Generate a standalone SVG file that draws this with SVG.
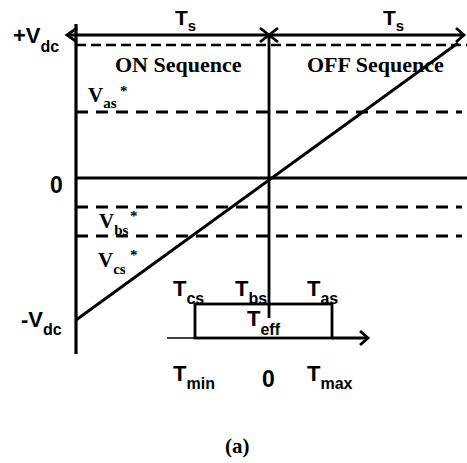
<svg xmlns="http://www.w3.org/2000/svg" width="467" height="463" viewBox="0 0 467 463">
<style>
.s{font-family:"Liberation Sans",Arial,sans-serif;font-weight:bold;fill:#000}
.r{font-family:"Liberation Serif","Times New Roman",serif;font-weight:bold;fill:#000}
.ln{stroke:#000;stroke-width:2.8;fill:none}
.d1{stroke:#000;stroke-width:2.5;fill:none;stroke-dasharray:10 5}
.d2{stroke:#000;stroke-width:2.8;fill:none;stroke-dasharray:12 8}
.ah{stroke:#000;stroke-width:2.8;fill:none;stroke-linejoin:miter}
</style>
<rect width="467" height="463" fill="#fff"/>
<g id="connectors">
  <line class="ln" x1="67" y1="35" x2="464" y2="35"/>
  <polyline class="ah" points="77,28 67,35 77,42"/>
  <polyline class="ah" points="260,28 269,35 260,42"/>
  <polyline class="ah" points="278,28 269,35 278,42"/>
  <polyline class="ah" points="456,28 464,35 456,42"/>
  <line class="ln" x1="76" y1="24" x2="76" y2="354" style="stroke-width:3.2"/>
  <line class="ln" x1="269" y1="35" x2="269" y2="318"/>
  <line class="ln" x1="76" y1="178" x2="467" y2="178"/>
  <line class="d1" x1="76" y1="45" x2="467" y2="45"/>
  <line class="d2" x1="76" y1="112" x2="462" y2="112"/>
  <line class="d2" x1="76" y1="207" x2="462" y2="207"/>
  <line class="d2" x1="76" y1="236" x2="462" y2="236"/>
  <line class="ln" x1="76" y1="320" x2="458" y2="43"/>
  <line x1="167" y1="338" x2="195" y2="338" stroke="#000" stroke-width="1.5"/>
  <line class="ln" x1="332" y1="338" x2="368" y2="338"/>
  <polyline class="ah" points="360,331 368,338 360,345"/>
</g>
<g id="teff-box">
  <rect class="ln" x="195" y="304" width="137" height="34"/>
</g>
<g id="labels">
  <text class="s" x="175" y="25" font-size="21">T<tspan font-size="15" y="31">s</tspan></text>
  <text class="s" x="383" y="25" font-size="21">T<tspan font-size="15" y="31">s</tspan></text>
  <text class="s" x="13" y="43" font-size="22">+V<tspan font-size="16" y="52">dc</tspan></text>
  <text class="s" x="50" y="193" font-size="23">0</text>
  <text class="s" x="21" y="327" font-size="22">-V<tspan font-size="16" y="335">dc</tspan></text>
  <text class="r" x="115" y="72" font-size="22">ON Sequence</text>
  <text class="r" x="307" y="72" font-size="22">OFF Sequence</text>
  <text class="r" x="88" y="102" font-size="21">V<tspan font-size="15" y="108">as</tspan><tspan font-size="15" x="120" y="96">*</tspan></text>
  <text class="r" x="99" y="228" font-size="21">V<tspan font-size="15" y="235">bs</tspan><tspan font-size="15" x="130" y="221">*</tspan></text>
  <text class="r" x="98" y="267" font-size="21">V<tspan font-size="15" y="274">cs</tspan><tspan font-size="15" x="130" y="260">*</tspan></text>
  <text class="s" x="173" y="296" font-size="22">T<tspan font-size="16" y="304">cs</tspan></text>
  <text class="s" x="235" y="296" font-size="22">T<tspan font-size="16" y="304">bs</tspan></text>
  <text class="s" x="307" y="296" font-size="22">T<tspan font-size="16" y="304">as</tspan></text>
  <text class="s" x="247" y="326" font-size="22">T<tspan font-size="16" y="335">eff</tspan></text>
  <text class="s" x="173" y="381" font-size="22">T<tspan font-size="16" y="389">min</tspan></text>
  <text class="s" x="262" y="387" font-size="23">0</text>
  <text class="s" x="307" y="381" font-size="22">T<tspan font-size="16" y="389">max</tspan></text>
  <text class="r" x="225" y="453" font-size="21">(a)</text>
</g>
</svg>
